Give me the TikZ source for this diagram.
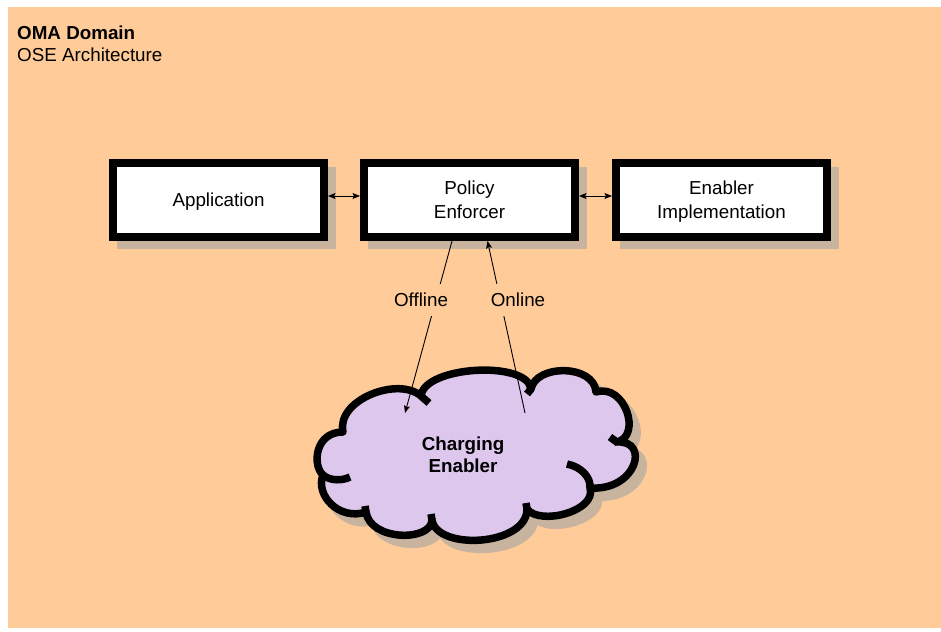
\documentclass[tikz,border=0pt]{standalone}
\usepackage{fontspec}
\setmainfont{Liberation Sans}
\usetikzlibrary{arrows.meta,backgrounds}
\definecolor{bgc}{HTML}{FFCC99}
\definecolor{cloudc}{HTML}{DDC7EC}
\definecolor{shadc}{HTML}{C8B49E}
\newcommand{\cloudoutline}{(323,475) .. controls (312,465) and (315,432) .. (343,432)
 .. controls (336,400) and (398,376) .. (421,396)
 .. controls (424,366) and (527,360) .. (531,389)
 .. controls (536,364) and (594,364) .. (596,392)
 .. controls (625,383) and (642,436) .. (617,442)
 .. controls (650,440) and (637,491) .. (590,488)
 .. controls (597,511) and (540,526) .. (527,509)
 .. controls (527,546) and (437,551) .. (432,520)
 .. controls (431,542) and (370,541) .. (366,512)
 .. controls (339,521) and (315,495) .. (323,475) -- cycle}
\begin{document}
\begin{tikzpicture}[x=1pt,y=-1pt,
  font=\fontsize{18.8pt}{24pt}\selectfont,
  box/.style={draw=black, line width=8pt, fill=white, minimum width=211pt, minimum height=74pt,
    inner sep=0pt, outer sep=4pt, text depth=0pt, align=center},
  lbl/.style={fill=bgc, inner xsep=1pt, inner ysep=9pt, text depth=0pt},
  title/.style={anchor=base west, inner sep=0pt},
  cl/.style={line width=7.5pt, line join=round, draw=black},
  boxshadow/.style={fill=shadc},
  arr/.style={line width=0.9pt, -{Stealth[length=7.5pt,width=6pt,inset=1.5pt]}},
  darr/.style={line width=0.9pt, {Stealth[length=7.5pt,width=6pt,inset=1.5pt]}-{Stealth[length=7.5pt,width=6pt,inset=1.5pt]}}]
\useasboundingbox (0,0) rectangle (941,631);
\begin{scope}[on background layer]
  \fill[white] (0,0) rectangle (941,631);
  \fill[bgc] (8,7) rectangle (941,628);
\end{scope}
% titles
\node[title] (t1) at (17,40) {\bfseries OMA Domain};
\node[title] (t2) at (17,62) {OSE Architecture};
% boxes
\node[box] (app) at (218.5,200) {Application};
\node[box] (pe) at (469.5,200) {Policy\\Enforcer};
\node[box] (ei) at (721.5,200) {Enabler\\Implementation};
\begin{scope}[on background layer]
  \foreach \n in {app,pe,ei}
    \fill[boxshadow] ([shift={(8,8)}]\n.north west) rectangle ([shift={(8,8)}]\n.south east);
\end{scope}
% cloud
\filldraw[boxshadow, draw=shadc, line width=7.5pt, line join=round, shift={(8,9)}] \cloudoutline;
\filldraw[cl, fill=cloudc] \cloudoutline;
\draw[cl] (350,477) .. controls (342,481) and (330,481) .. (323,475);
\draw[cl] (421,396) -- (429,403);
\draw[cl] (531,389) -- (527,394);
\draw[cl] (610,437) -- (618,443);
\draw[cl] (567,464) .. controls (582,467) and (591,478) .. (590,488);
\draw[cl] (527,509) -- (526,503);
\draw[cl] (432,520) -- (431,514);
\draw[cl] (366,512) -- (365,506);
\node[font=\bfseries\fontsize{18.8pt}{22pt}\selectfont, align=center, text depth=0pt, inner sep=0pt] (ce) at (463,455) {Charging\\Enabler};
% connectors
\coordinate (offE) at (405,413);
\coordinate (onS) at (525,413);
\draw[arr] ([xshift=-17.5pt]pe.south) -- (offE);
\draw[arr] (onS) -- ([xshift=18pt]pe.south);
\node[lbl] (offl) at (421,300) {Offline};
\node[lbl] (onl) at (518,300) {Online};
\draw[darr] ([yshift=4pt]app.east) -- ([yshift=4pt]pe.west);
\draw[darr] ([yshift=4pt]pe.east) -- ([yshift=4pt]ei.west);
\end{tikzpicture}
\end{document}
